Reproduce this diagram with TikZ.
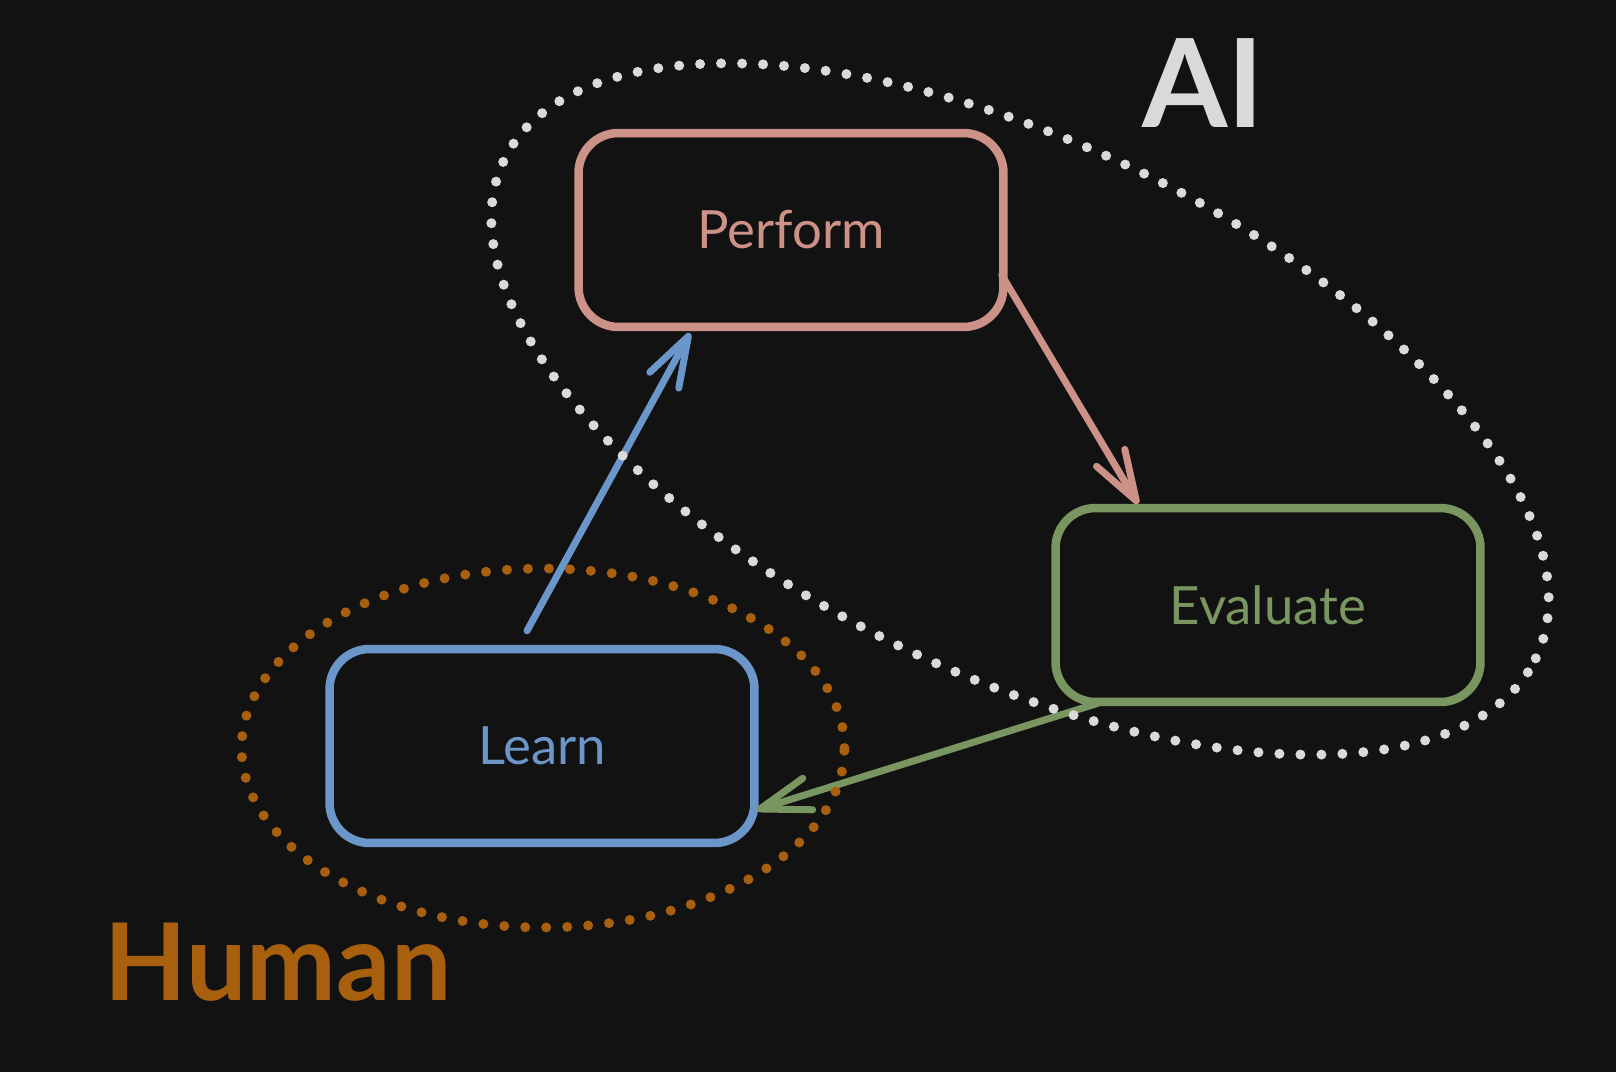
\documentclass[tikz,border=0pt]{standalone}
\usepackage{fontspec}
\setmainfont{Lato}
\usepackage{xcolor}
\usepackage{tikz}
\usetikzlibrary{arrows.meta,shapes.geometric}

\definecolor{canvasbg}{RGB}{18,18,18}
\definecolor{performcol}{RGB}{205,146,135}
\definecolor{evalcol}{RGB}{122,150,96}
\definecolor{learncol}{RGB}{107,150,201}
\definecolor{humancol}{RGB}{168,96,15}
\definecolor{aicol}{RGB}{218,218,218}

\begin{document}
\begin{tikzpicture}[
    x=0.02cm, y=-0.02cm,
    baseblock/.style={draw, rounded corners=0.8cm, line width=0.17cm,
                      minimum width=8.5cm, minimum height=3.88cm,
                      font=\fontsize{30pt}{36pt}\selectfont, align=center},
    performblock/.style={baseblock, draw=performcol, text=performcol},
    evalblock/.style={baseblock, draw=evalcol, text=evalcol},
    learnblock/.style={baseblock, draw=learncol, text=learncol},
    arrow/.style={-{Straight Barb[length=1cm, width=0.66cm, line cap=round,
                  line join=round]}, line width=0.14cm, line cap=round},
    zone/.style={ellipse, inner sep=0pt, line width=0.2cm, line cap=round,
                 dash pattern=on 0pt off 0.42cm},
    zonelbl/.style={anchor=base, font=\fontsize{70pt}{80pt}\selectfont\bfseries},
  ]
    % canvas
    \fill[canvasbg] (0,0) rectangle (1616,1072);
    \useasboundingbox (0,0) rectangle (1616,1072);

    % steps of the loop
    \node[performblock] (perform) at (791,230) {Perform};
    \node[evalblock] (evaluate) at (1268,605) {Evaluate};
    \node[learnblock] (learn) at (542,746) {Learn};

    % loop arrows
    \draw[arrow, learncol] ([xshift=-0.3cm, yshift=0.28cm]learn.north)
          -- ([xshift=-2.02cm, yshift=-0.04cm]perform.south);
    \draw[arrow, performcol] ([xshift=-0.12cm, yshift=-0.9cm]perform.east)
          -- ([xshift=-2.6cm]evaluate.north);
    \draw[arrow, evalcol] ([xshift=-3.4cm, yshift=0.06cm]evaluate.south)
          -- ([xshift=-0.04cm, yshift=-1.28cm]learn.east);

    % who does what
    \node[zone, draw=aicol, minimum width=22.92cm, minimum height=10.64cm,
          rotate=-25.8] (aizone) at (1020,409) {};
    \node[zone, draw=humancol, minimum width=12.06cm, minimum height=7.18cm]
          (humanzone) at (543,748) {};
    \node[zonelbl, text=aicol] (ailbl) at (1203,127) {AI};
    \node[zonelbl, font=\fontsize{61pt}{70pt}\selectfont\bfseries, text=humancol]
          (humanlbl) at (278,1000) {Human};
\end{tikzpicture}
\end{document}
